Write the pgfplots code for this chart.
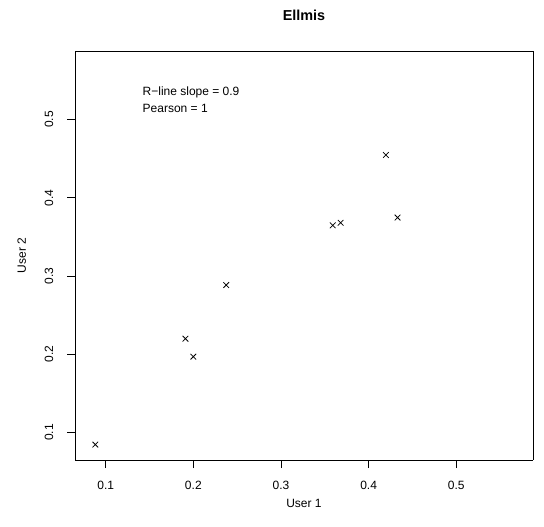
\documentclass[border=0pt]{standalone}
\usepackage{pgfplots}
\pgfplotsset{compat=1.18}
\usepackage{fontspec}
\setmainfont{Liberation Sans}
\begin{document}
\begin{tikzpicture}
\path (0bp,0bp) rectangle (544bp,527bp);
\pgfplotsset{rbox/.style={
  at={(75bp,67bp)}, anchor=south west,
  scale only axis, width=458bp, height=409bp,
  xmin=0.065, xmax=0.5875, ymin=0.065, ymax=0.5875}}
\begin{axis}[rbox, axis x line*=top, axis y line*=right, ticks=none,
  axis line style={line width=0.75bp, -}]
\end{axis}
\begin{axis}[rbox,
  axis x line*=bottom, axis y line*=left,
  axis line style={line width=0.75bp, -},
  xtick={0.1,0.2,0.3,0.4,0.5}, ytick={0.1,0.2,0.3,0.4,0.5},
  xticklabels={0.1,0.2,0.3,0.4,0.5}, yticklabels={0.1,0.2,0.3,0.4,0.5},
  tick align=outside, major tick length=8bp,
  major tick style={draw=black, line width=0.75bp},
  tick label style={font=\fontsize{12bp}{14bp}\selectfont},
  xticklabel style={anchor=center, yshift=-17bp},
  yticklabel style={rotate=90, anchor=center, yshift=18bp},
  xlabel={User 1}, ylabel={User 2},
  label style={font=\fontsize{12bp}{14bp}\selectfont},
  xlabel style={at={(axis description cs:0.5,-0.105)}, anchor=center},
  ylabel style={at={(axis description cs:-0.1164,0.5)}, anchor=center, rotate=0},
  title={Ellmis},
  title style={at={(axis description cs:0.5,1)}, anchor=center, yshift=30bp, font=\fontsize{14.4bp}{16bp}\selectfont\bfseries},
]
\addplot[only marks, mark=x, mark size=4bp, mark options={line width=0.75bp}, black] coordinates {
  (0.0882,0.0847)
  (0.191,0.220)
  (0.2,0.197)
  (0.2375,0.2885)
  (0.359,0.3648)
  (0.368,0.368)
  (0.4197,0.4547)
  (0.433,0.3747)
};
\node[anchor=west, inner sep=0pt, font=\fontsize{12bp}{14bp}\selectfont] at (axis cs:0.142,0.5352) {R−line slope = 0.9};
\node[anchor=west, inner sep=0pt, font=\fontsize{12bp}{14bp}\selectfont] at (axis cs:0.142,0.514) {Pearson = 1};
\end{axis}
\end{tikzpicture}
\end{document}
